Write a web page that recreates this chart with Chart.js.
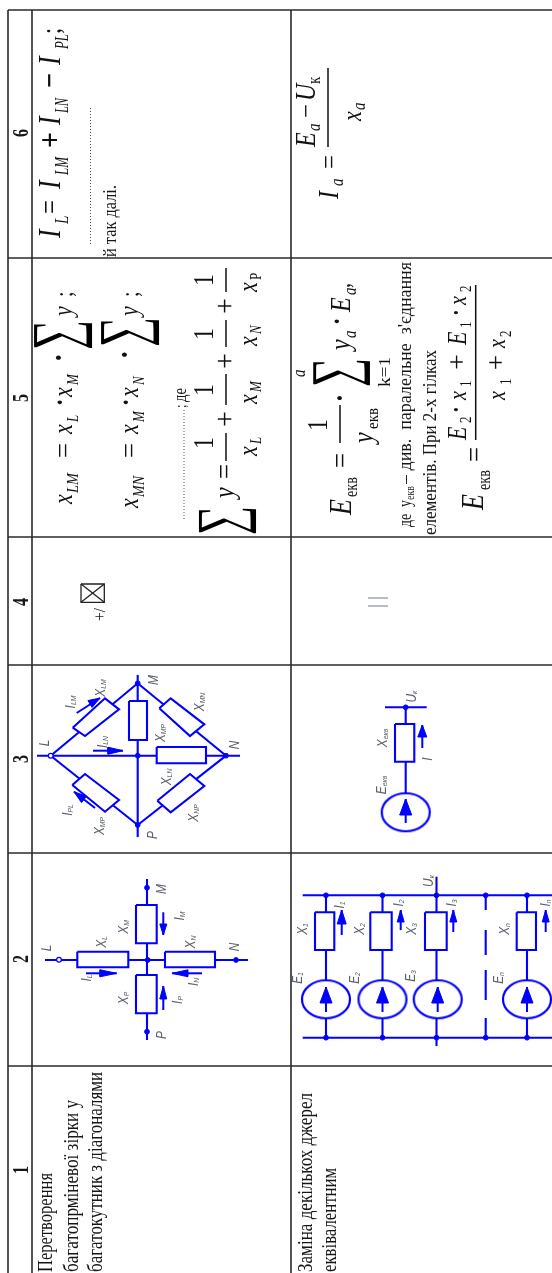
<!DOCTYPE html>
<html>
<head>
<meta charset="utf-8">
<title>Таблиця перетворень</title>
<script src="https://cdn.jsdelivr.net/npm/chart.js@4"></script>
<style>
  html, body { margin: 0; padding: 0; background: #fff; }
  canvas { display: block; filter: blur(0.35px); }
</style>
</head>
<body>
<canvas id="sheet" width="552" height="1273"></canvas>
<script>
const BLUE = '#0000ff';
// the scan is stretched across the text direction, so letters are tall and narrow
const STRETCH = 1.25;

// table rules, each one a polyline in picture units
const rules = [
  [8, 10, 552, 10], [8, 258, 552, 258], [8, 537, 552, 537], [8, 665, 552, 665],
  [8, 853, 552, 853], [8, 1066, 552, 1066],
  [8, 10, 8, 1273], [32, 10, 32, 1273], [291, 10, 291, 1273]
];

// wires of the schemes
const wires = [
  // bridge (column 3, top)
  [37, 755.7, 240, 755.7], [137.7, 675, 137.7, 837],
  [50.7, 755.7, 137.7, 683.3, 226, 755.7, 137.7, 825, 50.7, 755.7],
  // star (column 2, top)
  [45, 960, 248, 960], [147, 879, 147, 1040],
  // single source (column 3, bottom)
  [385, 707.3, 426.7, 707.3], [405.7, 707.3, 405.7, 800],
  // source bank (column 2, bottom)
  [302.7, 895.3, 552, 895.3], [302.7, 1037.7, 552, 1037.7], [436.5, 876.7, 436.5, 1046],
  [326, 895.3, 326, 1037.7], [382.5, 895.3, 382.5, 1037.7], [527, 895.3, 527, 1037.7],
  [485.7, 895, 485.7, 910], [485.7, 930, 485.7, 955], [485.7, 970, 485.7, 1000], [485.7, 1018, 485.7, 1038]
];

// resistors as closed outlines
const resistors = [
  [72.7, 727.7, 105, 698.3, 119, 709.3, 85, 736],
  [159.3, 708.3, 170.7, 698.3, 204.3, 724.3, 190, 736],
  [72.3, 785, 85, 774, 119, 800, 105, 811.7],
  [157.3, 800.7, 190, 774, 204.3, 786, 170.7, 812.3],
  [129, 701, 147, 701, 147, 740, 129, 740],
  [156.7, 747, 206, 747, 206, 763.3, 156.7, 763.3],
  [77.3, 951.7, 128.3, 951.7, 128.3, 967.3, 77.3, 967.3],
  [165, 951.7, 215, 951.7, 215, 967.3, 165, 967.3],
  [136, 905, 156.7, 905, 156.7, 943.3, 136, 943.3],
  [136, 975, 156.7, 975, 156.7, 1013.3, 136, 1013.3],
  [395, 724, 414.3, 724, 414.3, 761.7, 395, 761.7],
  [315, 912.3, 334.3, 912.3, 334.3, 950, 315, 950],
  [370.3, 912.3, 391.7, 912.3, 391.7, 950, 370.3, 950],
  [425, 912.3, 446.7, 912.3, 446.7, 950, 425, 950],
  [516.7, 912.3, 536, 912.3, 536, 950, 516.7, 950]
];

// arrows: tip x, tip y, head base x, head base y, tail x, tail y, half width
const arrows = [
  [100, 698, 90, 704, 76.7, 713, 4],
  [123, 750.7, 108, 750.7, 93, 750.7, 3.5],
  [74, 791.7, 84, 799.5, 95, 808, 4],
  [116.7, 973.3, 100, 973.3, 86, 973.3, 3.5],
  [172, 973.3, 188, 973.3, 202, 973.3, 3.5],
  [163.3, 935, 163.3, 924, 163.3, 912.3, 3.5],
  [163.3, 986, 163.3, 999, 163.3, 1010, 3.5],
  [422.3, 725, 422.3, 737, 422.3, 748, 4.5],
  [341.7, 910, 341.7, 924, 341.7, 935, 4.5],
  [400.7, 910, 400.7, 922, 400.7, 930, 3.5],
  [453.3, 910, 453.3, 922, 453.3, 932, 3.5],
  [545.7, 910, 545.7, 922, 545.7, 932, 3.5]
];
const sourceArrows = [
  [405.7, 799, 405.7, 815, 405.7, 823, 6],
  [326, 987, 326, 1003, 326, 1012, 6],
  [382.5, 987, 382.5, 1003, 382.5, 1012, 6],
  [437.7, 987, 437.7, 1003, 437.7, 1012, 6],
  [527, 987, 527, 1003, 527, 1012, 6]
];

const sources = [[405.7, 812.3], [326, 999.3], [382.5, 999.3], [437.7, 999.3], [527, 999.3]];
const nodes = [
  [137.7, 683.3], [226, 755.7], [137.7, 825], [137.7, 755.7],
  [147, 887.7], [236, 960], [147.7, 960], [147, 1031.7],
  [405.7, 707.3], [326, 895.3], [382.5, 895.3], [436.5, 895.3], [485.7, 895.3], [527, 895.3],
  [326, 1037.7], [382.5, 1037.7], [436.5, 1037.7], [485.7, 1037.7], [527, 1037.7]
];
const openNodes = [[50.7, 755.7], [59, 959.7]];

// black outlines of the small box in row 4 and the pale sign next to it
const boxLines = [[81, 584, 104.3, 584, 104.3, 602.3, 81, 602.3, 81, 584], [81, 584, 104.3, 602.3], [81, 602.3, 104.3, 584]];
const paleSign = [[368, 598, 388, 598], [368, 606, 388, 606]];
const fractionBars = [
  [328, 68, 328, 147], [226, 268, 226, 292], [226, 320, 226, 347], [226, 374, 226, 405], [226, 433, 226, 461],
  [340, 405, 340, 443], [475.7, 285, 475.7, 440]
];
const dotted = [[90.5, 108, 90.5, 245], [184, 410, 184, 520]];

// text: string, baseline x, start y, size, font kind, run length
const tableText = [
  ['6', 28, 137, 18, 'b', 8], ['5', 28, 402, 18, 'b', 8], ['4', 28, 606, 18, 'b', 8],
  ['3', 28, 763, 18, 'b', 8], ['2', 28, 963, 18, 'b', 8], ['1', 28, 1174, 18, 'b', 8],
  ['Перетворення', 52, 1272, 17, 'r', 99],
  ['багатопрміневої зірки у', 78, 1272, 17, 'r', 172],
  ['багатокутник з діагоналями', 101.5, 1272, 17, 'r', 200],
  ['Заміна декількох джерел', 311.5, 1272, 17, 'r', 179],
  ['еквівалентним', 335.5, 1272, 17, 'r', 104],
  ['й так далі.', 115.5, 257, 15, 'r', 72],
  ['де', 186, 402, 15, 'r', 14], [';', 186, 408, 13, 'r'],
  ['де  y', 410.7, 527, 15, 'r', 27], ['екв', 414, 500, 10, 'r', 14], ['– див.  паралельне  з\'єднання', 410.7, 484, 15, 'r', 222],
  ['елементів. При 2-х гілках', 435.7, 535, 15, 'r', 185],
  ['+/', 105, 621, 13, 'r', 13]
];
const formulaText = [
  // I_L = I_LM + I_LN - I_PL ;
  ['I', 60, 238, 26, 'i'], ['L', 68, 224, 15, 'i'], ['=', 60, 214, 26, 'r', 14],
  ['I', 60, 189, 26, 'i'], ['LM', 68, 175, 15, 'i', 18], ['+', 60, 148, 26, 'b', 16],
  ['I', 60, 125, 26, 'i'], ['LN', 68, 113, 15, 'i', 15], ['−', 60, 88, 26, 'b', 15],
  ['I', 60, 65, 26, 'i'], ['PL', 68, 49, 15, 'i', 15], [';', 60, 34, 22, 'r'],
  // I_a = (E_a - U_k) / x_a
  ['I', 338, 199, 24, 'i'], ['a', 343, 186, 15, 'i'], ['=', 338, 169, 22, 'r', 14],
  ['E', 315, 147, 24, 'i'], ['a', 320, 131, 15, 'i'], ['−', 315, 118, 22, 'r', 14],
  ['U', 315, 101, 24, 'i'], ['к', 320, 84, 15, 'r'],
  ['x', 361, 121, 22, 'i'], ['a', 365, 110, 15, 'i'],
  // x_LM = x_L x_M sum y
  ['x', 72, 504, 22, 'i'], ['LM', 78, 493, 13, 'i', 20], ['=', 72, 458, 22, 'r', 15],
  ['x', 72, 434, 22, 'i'], ['L', 78, 422, 13, 'i'], ['·', 69, 406, 22, 'b'],
  ['x', 72, 397, 22, 'i'], ['M', 78, 385, 13, 'i'], ['·', 69, 362, 26, 'b'],
  ['y', 72, 316, 22, 'i'], [';', 72, 297, 20, 'r'],
  // x_MN = x_M x_N sum y
  ['x', 138, 508, 22, 'i'], ['MN', 144, 497, 13, 'i', 21], ['=', 138, 458, 22, 'r', 15],
  ['x', 138, 434, 22, 'i'], ['M', 144, 422, 13, 'i'], ['·', 135, 406, 22, 'b'],
  ['x', 138, 397, 22, 'i'], ['N', 144, 385, 13, 'i'], ['·', 135, 359, 26, 'b'],
  ['y', 138, 316, 22, 'i'], [';', 138, 297, 20, 'r'],
  // sum y = 1/x_L + 1/x_M + 1/x_N + 1/x_P
  ['y', 234, 498, 24, 'i'], ['=', 234, 479, 24, 'r', 15],
  ['1', 213, 449, 24, 'r'], ['x', 257, 456, 22, 'i'], ['L', 261, 444, 13, 'i'], ['+', 234, 427, 24, 'r', 16],
  ['1', 213, 396, 24, 'r'], ['x', 257, 404, 22, 'i'], ['M', 261, 392, 13, 'i'], ['+', 234, 369, 24, 'r', 16],
  ['1', 213, 340, 24, 'r'], ['x', 257, 346, 22, 'i'], ['N', 261, 334, 13, 'i'], ['+', 234, 314, 24, 'r', 16],
  ['1', 213, 286, 24, 'r'], ['x', 257, 292, 22, 'i'], ['P', 261, 280, 13, 'r'],
  // E_ekv = 1/y_ekv sum y_a E_a
  ['E', 350.7, 515, 26, 'i'], ['екв', 357, 497, 15, 'r', 20], ['=', 350, 468, 24, 'r', 15],
  ['1', 327, 431, 24, 'r'], ['y', 373, 443, 24, 'i'], ['екв', 378, 429, 13, 'r', 21], ['·', 349, 402, 24, 'b'],
  ['a', 305, 377, 15, 'i'], ['k=1', 390, 387, 14, 'r', 30],
  ['y', 350, 350, 24, 'i'], ['a', 356, 338, 15, 'i'], ['·', 346, 325, 22, 'b'],
  ['E', 350, 312, 24, 'i'], ['a', 356, 295, 15, 'i'], [',', 350, 288, 20, 'i'],
  // E_ekv = (E2 x1 + E1 x2) / (x1 + x2)
  ['E', 483, 510, 26, 'i'], ['екв', 490, 490, 15, 'r', 20], ['=', 484, 462, 24, 'r', 15],
  ['E', 466, 440, 22, 'i'], ['2', 471, 423, 13, 'r'], ['·', 464, 413, 20, 'b'], ['x', 466, 400, 20, 'i'], ['1', 471, 387, 13, 'r'],
  ['+', 466, 370, 22, 'r', 16], ['E', 466, 345, 22, 'i'], ['1', 471, 328, 13, 'r'], ['·', 464, 316, 20, 'b'], ['x', 466, 305, 20, 'i'], ['2', 471, 292, 13, 'r'],
  ['x', 505, 400, 20, 'i'], ['1', 511, 385, 13, 'r'], ['+', 505, 370, 22, 'r', 15], ['x', 505, 348, 20, 'i'], ['2', 511, 337, 13, 'r']
];
// the big sum signs: baseline x, start y, size, run length
const sumSigns = [
  ['∑', 78, 350, 67, 'r', 30], ['∑', 145, 347, 67, 'r', 30], ['∑', 242, 535, 66, 'r', 29], ['∑', 356, 387, 65, 'r', 29]
];

// scheme labels: main letter, subscript, centre x, centre y
const schemeLabels = [
  ['M', '', 154, 680], ['X', 'LM', 101, 688], ['I', 'LM', 71, 702], ['X', 'MN', 200, 702], ['X', 'MP', 161, 733],
  ['I', 'LN', 103, 742], ['L', '', 45, 743], ['N', '', 235, 745], ['X', 'LN', 167, 777], ['I', 'PL', 68, 810],
  ['X', 'NP', 194, 813], ['X', 'MP', 100, 826], ['P', '', 153, 835],
  ['M', '', 162, 889], ['I', 'M', 180, 916], ['X', 'M', 124, 927], ['X', 'L', 102, 942], ['L', '', 47, 948],
  ['X', 'N', 191, 942], ['N', '', 235, 947], ['I', 'L', 87, 978], ['I', 'N', 194, 982], ['X', 'P', 124, 998],
  ['I', 'P', 178, 1000], ['P', '', 162, 1035],
  ['U', 'к', 411.7, 696.7], ['X', 'екв', 383, 738], ['E', 'екв', 381.7, 785], ['I', '', 428, 759],
  ['U', 'к', 429, 881], ['I', '1', 340, 905], ['I', '2', 399, 903], ['I', '3', 452, 903], ['I', 'n', 546, 903],
  ['X', '1', 303, 929], ['X', '2', 360, 929], ['X', '3', 412, 929], ['X', 'n', 505, 929],
  ['E', '1', 298, 978], ['E', '2', 355, 978], ['E', '3', 411, 976], ['E', 'n', 499, 978]
];

const fonts = {
  r: 'normal 400 SIZEpx "Liberation Serif"',
  i: 'italic 400 SIZEpx "Liberation Serif"',
  b: 'normal 700 SIZEpx "Liberation Serif"'
};

function pts(flat) {
  const out = [];
  for (let i = 0; i < flat.length; i += 2) {
    out.push({x: flat[i], y: flat[i + 1]});
  }
  return out;
}

function lineSet(flat, color, width, extra) {
  return Object.assign({
    type: 'scatter', data: pts(flat), showLine: true, borderColor: color,
    borderWidth: width, pointRadius: 0, tension: 0, fill: false, borderCapStyle: 'butt'
  }, extra || {});
}

function arrowHead(a) {
  const dx = a[2] - a[0], dy = a[3] - a[1];
  const len = Math.hypot(dx, dy);
  const nx = -dy / len * a[6], ny = dx / len * a[6];
  return [a[0], a[1], a[2] + nx, a[3] + ny, a[2] - nx, a[3] - ny, a[0], a[1]];
}

// the sources look squashed in the picture, so their point is an ellipse image
function sourceImage() {
  const c = document.createElement('canvas');
  c.width = 54;
  c.height = 44;
  const g = c.getContext('2d');
  g.beginPath();
  g.ellipse(27, 22, 24, 19, 0, 0, Math.PI * 2);
  g.fillStyle = '#fff';
  g.fill();
  g.lineWidth = 2.2;
  g.strokeStyle = BLUE;
  g.stroke();
  return c;
}

// paint order: first entry at the back
const layers = [];
rules.forEach(r => layers.push(lineSet(r, '#2a2a2a', 1.6)));
fractionBars.forEach(r => layers.push(lineSet(r, '#111', 1.5)));
dotted.forEach(r => layers.push(lineSet(r, '#3d4f6e', 1, {borderDash: [1, 2]})));
boxLines.forEach(r => layers.push(lineSet(r, '#222', 1.3)));
paleSign.forEach(r => layers.push(lineSet(r, '#9a9fb0', 1.4)));
wires.forEach(r => layers.push(lineSet(r, BLUE, 2.1)));
resistors.forEach(r => layers.push(lineSet(r.concat(r[0], r[1]), BLUE, 2.1, {fill: 'shape', backgroundColor: '#fff'})));
layers.push({
  type: 'scatter', data: sources.map(s => ({x: s[0], y: s[1]})),
  pointStyle: sourceImage(), pointRadius: 27, showLine: false
});
arrows.concat(sourceArrows).forEach(a => {
  layers.push(lineSet([a[0], a[1], a[4], a[5]], BLUE, 2));
  layers.push(lineSet(arrowHead(a), BLUE, 1, {fill: 'shape', backgroundColor: BLUE}));
});
layers.push({
  type: 'scatter', data: nodes.map(n => ({x: n[0], y: n[1]})), pointRadius: 2.4,
  pointBackgroundColor: BLUE, pointBorderColor: BLUE, showLine: false
});
layers.push({
  type: 'scatter', data: openNodes.map(n => ({x: n[0], y: n[1]})), pointRadius: 2.4, pointBorderWidth: 1.2,
  pointBackgroundColor: '#fff', pointBorderColor: BLUE, showLine: false
});

const textPlugin = {
  id: 'rotatedText',
  afterDatasetsDraw(chart) {
    const ctx = chart.ctx;
    const sx = chart.scales.x, sy = chart.scales.y;

    function put(t, color, stretch) {
      ctx.save();
      ctx.font = fonts[t[4]].replace('SIZE', t[3] * stretch);
      ctx.fillStyle = color;
      ctx.textAlign = 'left';
      ctx.textBaseline = 'alphabetic';
      ctx.translate(sx.getPixelForValue(t[1]), sy.getPixelForValue(t[2]));
      ctx.rotate(-Math.PI / 2);
      ctx.scale(t[5] ? t[5] / ctx.measureText(t[0]).width : 1 / stretch, 1);
      ctx.fillText(t[0], 0, 0);
      ctx.restore();
    }

    tableText.forEach(t => put(t, '#161616', STRETCH));
    formulaText.forEach(t => put(t, '#111', STRETCH));
    sumSigns.forEach(t => put(t, '#000', 1));

    schemeLabels.forEach(l => {
      ctx.save();
      ctx.translate(sx.getPixelForValue(l[2]), sy.getPixelForValue(l[3]));
      ctx.rotate(-Math.PI / 2);
      ctx.scale(0.85, 1);
      ctx.fillStyle = '#5a606c';
      ctx.textBaseline = 'middle';
      ctx.textAlign = 'left';
      ctx.font = 'italic 14px "Liberation Sans"';
      const w = ctx.measureText(l[0]).width;
      ctx.font = 'italic 8px "Liberation Sans"';
      const w2 = l[1] ? ctx.measureText(l[1]).width : 0;
      const start = -(w + w2) / 2;
      ctx.font = 'italic 14px "Liberation Sans"';
      ctx.fillText(l[0], start, 0);
      if (l[1]) {
        ctx.font = 'italic 8px "Liberation Sans"';
        ctx.fillText(l[1], start + w, 3);
      }
      ctx.restore();
    });
  }
};

new Chart(document.getElementById('sheet'), {
  type: 'scatter',
  data: {datasets: layers.slice().reverse()},
  options: {
    responsive: false,
    animation: false,
    events: [],
    layout: {padding: 0, autoPadding: false},
    plugins: {legend: {display: false}, tooltip: {enabled: false}},
    scales: {
      x: {type: 'linear', min: 0, max: 552, display: false},
      y: {type: 'linear', min: 0, max: 1273, reverse: true, display: false}
    }
  },
  plugins: [textPlugin]
});
</script>
</body>
</html>
